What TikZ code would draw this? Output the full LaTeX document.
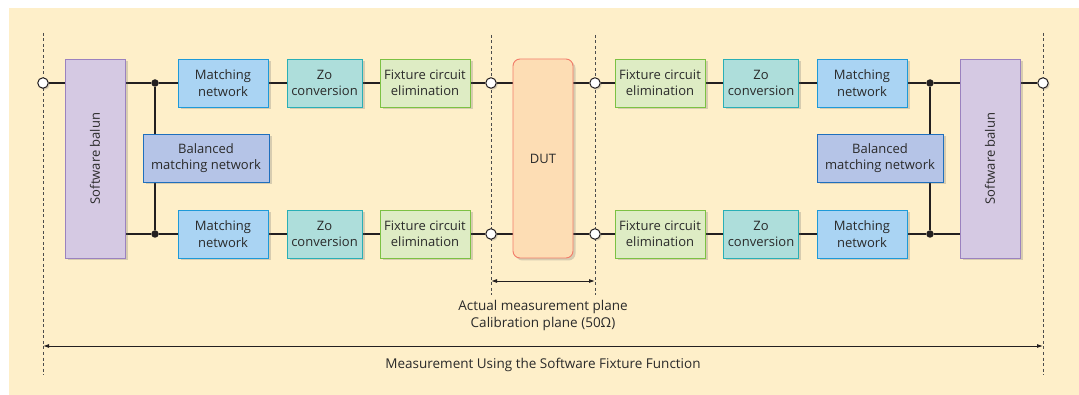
\documentclass[tikz,border=0pt]{standalone}
\usepackage{fontspec}
\setmainfont{Open Sans}
\usetikzlibrary{shadows}
\usetikzlibrary{arrows.meta}

\definecolor{cream}{HTML}{FEEFC9}
\definecolor{txt}{HTML}{2A2A2A}
\definecolor{wirec}{HTML}{231F20}
\definecolor{balunfill}{HTML}{D5C9E3}
\definecolor{balunline}{HTML}{9B82BF}
\definecolor{matchfill}{HTML}{AAD4F3}
\definecolor{matchline}{HTML}{1E9AD8}
\definecolor{zofill}{HTML}{AEDEDB}
\definecolor{zoline}{HTML}{2AAFB6}
\definecolor{fixfill}{HTML}{DEECC4}
\definecolor{fixline}{HTML}{7CC143}
\definecolor{balfill}{HTML}{B5C4E7}
\definecolor{balline}{HTML}{1F6FBD}
\definecolor{dutfill}{HTML}{FDDDB4}
\definecolor{dutline}{HTML}{F27C69}

\pgfdeclarelayer{back}
\pgfdeclarelayer{wires}
\pgfsetlayers{back,wires,main}

\tikzset{
  blk/.style={draw, line width=0.9pt, align=center, text=txt, inner sep=0pt,
    font=\fontsize{13}{16.5}\selectfont, minimum height=48pt,
    drop shadow={shadow xshift=2.5pt, shadow yshift=-2.5pt, opacity=0.25, fill=black!60}},
  matchbox/.style={blk, fill=matchfill, draw=matchline, minimum width=90pt},
  zobox/.style={blk, fill=zofill, draw=zoline, minimum width=75pt},
  fixbox/.style={blk, fill=fixfill, draw=fixline, minimum width=90pt},
  balbox/.style={blk, fill=balfill, draw=balline, minimum width=126pt},
  balunbox/.style={blk, fill=balunfill, draw=balunline, minimum width=60pt, minimum height=199pt},
  dutbox/.style={blk, fill=dutfill, draw=dutline, rounded corners=7pt, minimum width=60pt, minimum height=199pt},
  port/.style={circle, draw=wirec, fill=white, line width=1pt, inner sep=0pt, minimum size=10.5pt,
    drop shadow={shadow xshift=1.5pt, shadow yshift=-1.5pt, opacity=0.25, fill=black!60}},
  dot/.style={circle, fill=wirec, inner sep=0pt, minimum size=7.5pt},
  wire/.style={draw=wirec, line width=1.8pt},
  plane/.style={draw=black!70, line width=0.8pt, dash pattern=on 3pt off 2.5pt},
  dim/.style={draw=wirec, line width=0.9pt, {Latex[length=6pt,width=4pt]}-{Latex[length=6pt,width=4pt]}},
  lbl/.style={text=txt, font=\fontsize{13.5}{17}\selectfont, align=center}
}

\begin{document}
\begin{tikzpicture}[x=1pt,y=-1pt]
\useasboundingbox (0,0) rectangle (1079,395);
\begin{pgfonlayer}{back}
\fill[cream] (9,8) rectangle (1079,395);
\end{pgfonlayer}

% left half
\node[port] (pL) at (43,83) {};
\node[balunbox] (balunL) at (95,158.5) {\rotatebox{90}{Software balun}};
\node[dot] (dLT) at (155,83) {};
\node[dot] (dLB) at (155,234) {};
\node[balbox] (balL) at (206,158) {Balanced\\matching network};
\node[matchbox] (mLT) at (223,83) {Matching\\network};
\node[matchbox] (mLB) at (223,234) {Matching\\network};
\node[zobox] (zLT) at (324.5,83) {Zo\\conversion};
\node[zobox] (zLB) at (324.5,234) {Zo\\conversion};
\node[fixbox] (fLT) at (425,83) {Fixture circuit\\elimination};
\node[fixbox] (fLB) at (425,234) {Fixture circuit\\elimination};
\node[port] (pLT) at (491,83) {};
\node[port] (pLB) at (491,234) {};

% DUT
\node[dutbox] (dut) at (543,158.5) {DUT};

% right half
\node[port] (pRT) at (595,83) {};
\node[port] (pRB) at (595,234) {};
\node[fixbox] (fRT) at (660,83) {Fixture circuit\\elimination};
\node[fixbox] (fRB) at (660,234) {Fixture circuit\\elimination};
\node[zobox] (zRT) at (761,83) {Zo\\conversion};
\node[zobox] (zRB) at (761,234) {Zo\\conversion};
\node[matchbox] (mRT) at (862,83) {Matching\\network};
\node[matchbox] (mRB) at (862,234) {Matching\\network};
\node[balbox] (balR) at (880,158) {Balanced\\matching network};
\node[dot] (dRT) at (930,83) {};
\node[dot] (dRB) at (930,234) {};
\node[balunbox] (balunR) at (990,158.5) {\rotatebox{90}{Software balun}};
\node[port] (pR) at (1043,83) {};

% planes and labels
\coordinate (aL) at (491,281);
\coordinate (aR) at (595,281);
\coordinate (bL) at (43,346);
\coordinate (bR) at (1043,346);
\node[lbl] (cal) at (543,315.5) {Actual measurement plane\\Calibration plane (50Ω)};
\node[lbl] (meas) at (543,365) {Measurement Using the Software Fixture Function};

\begin{pgfonlayer}{wires}
\foreach \x/\a/\b in {43/33/375, 491/35/295, 595/35/295, 1043/33/375}
  \draw[plane] (\x,\a) -- (\x,\b);
\draw[wire] (pL) -- (pL -| balunL.west);
\draw[wire] (balunL.east |- dLT) -- (dLT) -- (mLT) -- (zLT) -- (fLT) -- (pLT) -- (pLT -| dut.west);
\draw[wire] (balunL.east |- dLB) -- (dLB) -- (mLB) -- (zLB) -- (fLB) -- (pLB) -- (pLB -| dut.west);
\draw[wire] (dLT) -- (dLB);
\draw[wire] (pRT -| dut.east) -- (pRT) -- (fRT) -- (zRT) -- (mRT) -- (dRT) -- (dRT -| balunR.west);
\draw[wire] (pRB -| dut.east) -- (pRB) -- (fRB) -- (zRB) -- (mRB) -- (dRB) -- (dRB -| balunR.west);
\draw[wire] (dRT) -- (dRB);
\draw[wire] (balunR.east |- pR) -- (pR);
\draw[dim] (aL) -- (aR);
\draw[dim] (bL) -- (bR);
\end{pgfonlayer}
\end{tikzpicture}
\end{document}
